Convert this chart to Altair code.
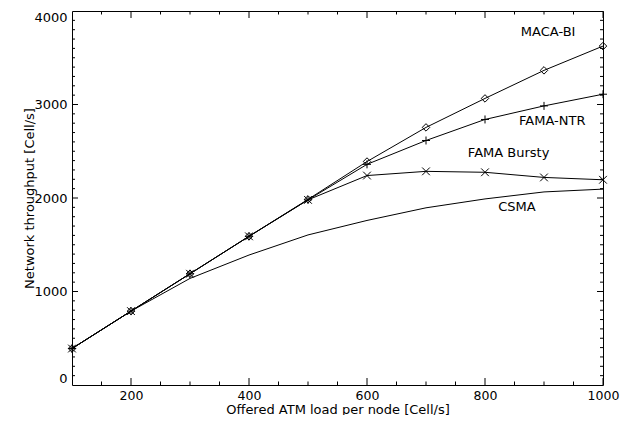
import altair as alt
import pandas as pd

# ---- data ----
loads = [100, 200, 300, 400, 500, 600, 700, 800, 900, 1000]
maca_bi = [390, 790, 1190, 1590, 1985, 2390, 2755, 3065, 3365, 3625]
fama_ntr = [390, 790, 1190, 1590, 1980, 2360, 2615, 2840, 2985, 3110]
fama_bursty = [390, 790, 1190, 1590, 1980, 2240, 2285, 2275, 2220, 2195]
csma = [390, 790, 1140, 1390, 1605, 1760, 1895, 1990, 2065, 2095]

series_names = ["MACA-BI", "FAMA-NTR", "FAMA Bursty", "CSMA"]
series_values = [maca_bi, fama_ntr, fama_bursty, csma]

label_text = ["MACA-BI", "FAMA-NTR", "FAMA Bursty", "CSMA"]
label_x = [907, 914, 840, 854]
label_y = [3780, 2825, 2478, 1905]

x_label_values = [200, 400, 600, 800, 1000]
x_major_ticks = [200, 400, 600, 800, 1000]
x_minor_ticks = [v for v in range(150, 1000, 50) if v not in x_major_ticks]
y_label_values = [0, 1000, 2000, 3000, 4000]
y_major_ticks = [1000, 2000, 3000]
y_minor_ticks = [v for v in range(100, 4000, 100) if v % 1000 != 0]

W, H = 531, 374
FONT = "DejaVu Sans"

rows = []
for name, vals in zip(series_names, series_values):
    for x, y in zip(loads, vals):
        rows.append({"load": x, "thr": y, "series": name})
df = pd.DataFrame(rows)

xscale = alt.Scale(domain=[100, 1000], nice=False, zero=False)
yscale = alt.Scale(domain=[0, 4000], nice=False, zero=True)

lines = alt.Chart(df).mark_line(color="black", strokeWidth=1, clip=True).encode(
    x=alt.X("load:Q", scale=xscale,
            axis=alt.Axis(values=x_label_values, format="d", ticks=False, tickSize=0,
                          domain=False, grid=False, labelPadding=4, labelFont=FONT,
                          labelFontSize=12.5, labelColor="black", labelFlush=False,
                          labelOverlap=False,
                          title="Offered ATM load per node [Cell/s]", titleFont=FONT,
                          titleFontSize=13, titleFontWeight="normal", titleColor="black",
                          titleY=28, titleBaseline="alphabetic")),
    y=alt.Y("thr:Q", scale=yscale,
            axis=alt.Axis(values=y_label_values, format="d", ticks=False, tickSize=0,
                          domain=False, grid=False, labelPadding=5, labelFont=FONT,
                          labelFontSize=13, labelColor="black", labelFlush=True,
                          labelOverlap=False,
                          title="Network throughput [Cell/s]", titleFont=FONT,
                          titleFontSize=13, titleFontWeight="normal", titleColor="black",
                          titleX=-43, titleY=H / 2, titleAngle=270, titleAlign="center",
                          titleBaseline="middle")),
    detail="series:N",
)

shapes = {
    "MACA-BI": ("diamond", 56),
    "FAMA-NTR": ("M-1,0H1M0,-1V1", 64),
    "FAMA Bursty": ("M-1,-1L1,1M-1,1L1,-1", 60),
}
point_layers = []
for name, (shape, size) in shapes.items():
    point_layers.append(
        alt.Chart(df[df.series == name]).mark_point(
            shape=shape, size=size, filled=False, stroke="black", strokeWidth=1, opacity=1
        ).encode(x=alt.X("load:Q", scale=xscale), y=alt.Y("thr:Q", scale=yscale))
    )

labels_df = pd.DataFrame({"t": label_text, "x": label_x, "y": label_y})
labels = alt.Chart(labels_df).mark_text(
    font=FONT, fontSize=13, color="black", align="center", baseline="middle"
).encode(x=alt.X("x:Q", scale=xscale), y=alt.Y("y:Q", scale=yscale), text="t:N")


def xticks(vals, length):
    d = pd.DataFrame({"v": vals})
    bottom = alt.Chart(d).mark_rule(color="black", strokeWidth=1).encode(
        x=alt.X("v:Q", scale=xscale), y=alt.value(H), y2=alt.value(H - length))
    top = alt.Chart(d).mark_rule(color="black", strokeWidth=1).encode(
        x=alt.X("v:Q", scale=xscale), y=alt.value(0), y2=alt.value(length))
    return [bottom, top]


def yticks(vals, length):
    d = pd.DataFrame({"v": vals})
    left = alt.Chart(d).mark_rule(color="black", strokeWidth=1).encode(
        y=alt.Y("v:Q", scale=yscale), x=alt.value(0), x2=alt.value(length))
    right = alt.Chart(d).mark_rule(color="black", strokeWidth=1).encode(
        y=alt.Y("v:Q", scale=yscale), x=alt.value(W), x2=alt.value(W - length))
    return [left, right]


tick_layers = (xticks(x_major_ticks, 7) + xticks(x_minor_ticks, 3.5)
               + yticks(y_major_ticks, 6) + yticks(y_minor_ticks, 3))

chart = alt.layer(lines, *point_layers, labels, *tick_layers).properties(
    width=W, height=H,
    autosize=alt.AutoSizeParams(type="none"),
    padding={"left": 64, "top": 3, "right": 19, "bottom": 30},
    background="white",
).configure_view(stroke="black", strokeWidth=1)

chart.save("out.html", embed_options={"renderer": "svg", "actions": False})
